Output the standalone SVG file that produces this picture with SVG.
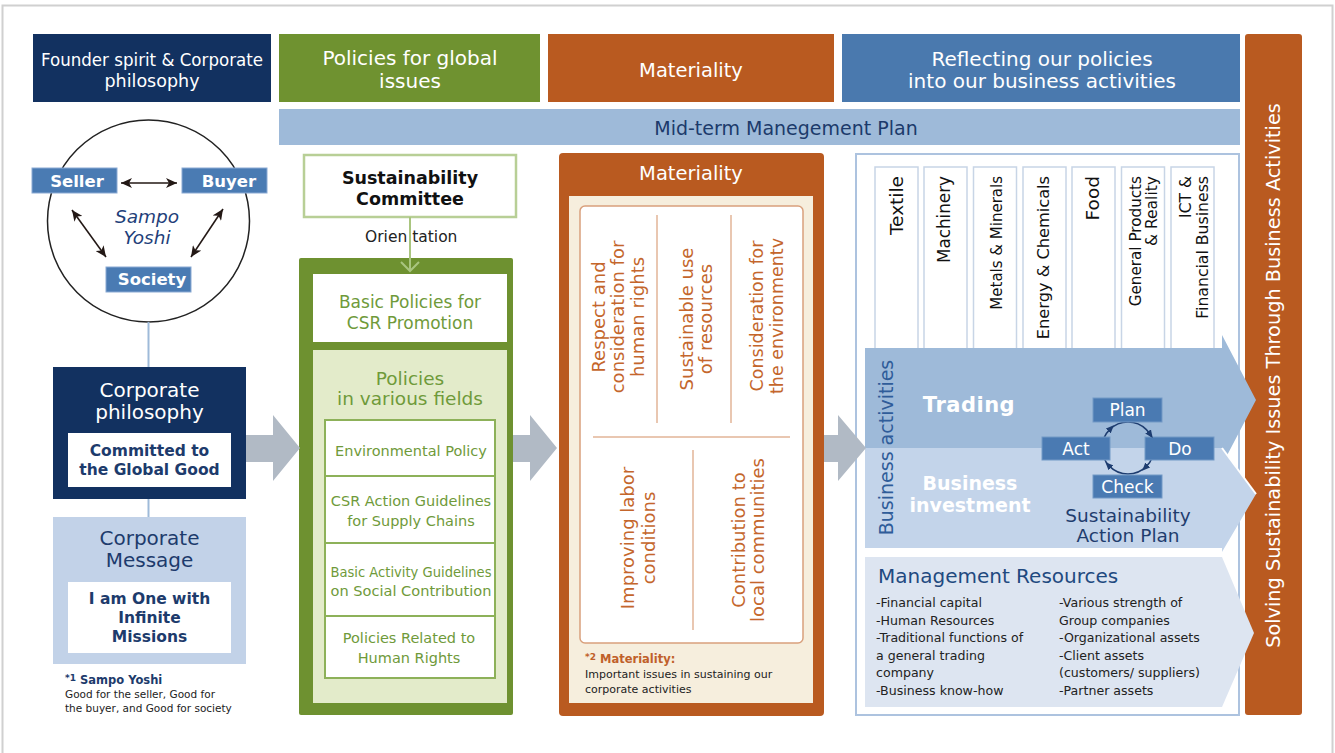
<svg xmlns="http://www.w3.org/2000/svg" width="1335" height="753" viewBox="0 0 1335 753">
<defs>
<style>
text{font-family:"DejaVu Sans",Verdana,sans-serif}
.c{text-anchor:middle}
.b{font-weight:bold}
.hdr{font-size:20px;fill:#fff;text-anchor:middle}
.navy{fill:#1d3b6c}
.grn{fill:#6f9a3a;font-size:14.5px;text-anchor:middle}
.org{fill:#c4662c;font-size:18px;text-anchor:middle}
.col{fill:#111;text-anchor:end}
.mr{font-size:12.6px;fill:#222}
.pd{font-size:17px;fill:#fff;text-anchor:middle}
.sbox{fill:#4a7bb3;stroke:#8aaad3;stroke-width:1}
.pbox{fill:#4a7ab2;stroke:#7399c6;stroke-width:1}
.divcol{fill:#fff;stroke:#c8d5e6;stroke-width:1.5}
.ga{fill:#b1bac5}
.sy{stroke:#231815;stroke-width:1.6;fill:none;marker-start:url(#ah);marker-end:url(#ah)}
.pa{stroke:none;fill:none;marker-end:url(#pm)}
</style>
<marker id="ah" viewBox="0 0 11 10" refX="11" refY="5" markerWidth="11" markerHeight="10" markerUnits="userSpaceOnUse" orient="auto-start-reverse"><path d="M0,0 L11,5 L0,10 L3,5 z" fill="#231815"/></marker>
<marker id="pm" viewBox="0 0 8 7" refX="4" refY="3.5" markerWidth="8" markerHeight="7" markerUnits="userSpaceOnUse" orient="auto"><path d="M0,0 L8,3.5 L0,7 z" fill="#1e3d70"/></marker>
</defs>

<rect x="0" y="0" width="1335" height="753" fill="#fff"/>
<rect id="frame" x="2.5" y="5.5" width="1330" height="800" fill="none" stroke="#d0d0d0" stroke-width="2"/>

<!-- Headers -->
<g id="hdr-founder">
<rect x="33" y="34" width="238" height="68" fill="#123160"/>
<text class="hdr" x="152" y="66" textLength="222" lengthAdjust="spacingAndGlyphs" style="font-size:17.5px">Founder spirit &amp; Corporate</text>
<text class="hdr" x="152" y="87" style="font-size:17.5px">philosophy</text>
</g>
<g id="hdr-policies">
<rect x="279" y="34" width="261" height="68" fill="#6f9230"/>
<text class="hdr" x="410" y="65">Policies for global</text>
<text class="hdr" x="410" y="88">issues</text>
</g>
<g id="hdr-materiality">
<rect x="548" y="34" width="286" height="68" fill="#b95a20"/>
<text class="hdr" x="691" y="77" style="font-size:19.5px">Materiality</text>
</g>
<g id="hdr-reflecting">
<rect x="842" y="34" width="398" height="68" fill="#4a79ae"/>
<text class="hdr" x="1042" y="66">Reflecting our policies</text>
<text class="hdr" x="1042" y="88">into our business activities</text>
</g>
<g id="midterm">
<rect x="279" y="109" width="961" height="36" fill="#9ebad9"/>
<text x="786" y="135" class="c" font-size="19" fill="#1c3a6b">Mid-term Manegement Plan</text>
</g>

<!-- Left column -->
<g id="sampo">
<circle cx="148.5" cy="221" r="101" fill="#fff" stroke="#222" stroke-width="1.5"/>
<text x="147" y="223" class="c" font-size="18.5" font-style="italic" fill="#1f3f7a">Sampo</text>
<text x="147" y="244" class="c" font-size="18.5" font-style="italic" fill="#1f3f7a">Yoshi</text>
</g>
<g id="seller">
<rect class="sbox" x="32" y="168" width="85" height="25"/>
<text x="77" y="187" class="c b" font-size="16.5" fill="#fff">Seller</text>
</g>
<g id="buyer">
<rect class="sbox" x="182" y="168" width="85" height="25"/>
<text x="229" y="187" class="c b" font-size="16.5" fill="#fff">Buyer</text>
</g>
<g id="society">
<rect class="sbox" x="106" y="267" width="85" height="25"/>
<text x="152" y="285" class="c b" font-size="16.5" fill="#fff">Society</text>
</g>
<g id="corp-philosophy">
<rect x="53" y="367" width="193" height="132" fill="#123160"/>
<text x="149.5" y="397" class="c" font-size="20" fill="#fff">Corporate</text>
<text x="149.5" y="419" class="c" font-size="20" fill="#fff">philosophy</text>
<rect x="68" y="433" width="163" height="54" fill="#fff"/>
<text x="149.5" y="456" class="c b" font-size="15.5" fill="#1d3b6c">Committed to</text>
<text x="149.5" y="475" class="c b" font-size="15.5" fill="#1d3b6c">the Global Good</text>
</g>
<g id="corp-message">
<rect x="53" y="517" width="193" height="147" fill="#c2d2e8"/>
<text x="149.5" y="545" class="c" font-size="20" fill="#1d3b6c">Corporate</text>
<text x="149.5" y="567" class="c" font-size="20" fill="#1d3b6c">Message</text>
<rect x="68" y="582" width="163" height="71" fill="#fff"/>
<text x="149.5" y="604" class="c b" font-size="15.5" fill="#1d3b6c">I am One with</text>
<text x="149.5" y="623" class="c b" font-size="15.5" fill="#1d3b6c">Infinite</text>
<text x="149.5" y="642" class="c b" font-size="15.5" fill="#1d3b6c">Missions</text>
</g>
<g id="note1">
<text x="65" y="684" class="b" font-size="11.5" fill="#1d3b6c"><tspan font-size="9" dy="-3">*1</tspan><tspan dy="3"> Sampo Yoshi</tspan></text>
<text x="65" y="698" font-size="10.5" fill="#222">Good for the seller, Good for</text>
<text x="65" y="712" font-size="10.5" fill="#222">the buyer, and Good for society</text>
</g>

<!-- Green column -->
<g id="sust-committee">
<rect x="304" y="155" width="212" height="62" fill="#fff" stroke="#b8cf96" stroke-width="2.5"/>
<text x="410" y="184" class="c b" font-size="17.5" fill="#111">Sustainability</text>
<text x="410" y="205" class="c b" font-size="17.5" fill="#111">Committee</text>
</g>
<g id="policies-box">
<rect x="299" y="258" width="214" height="457" fill="#6e9130" rx="2"/>
<rect x="313" y="274" width="194" height="68" fill="#fff"/>
<text x="410" y="308" class="c" font-size="17" fill="#6f9a3a">Basic Policies for</text>
<text x="410" y="329" class="c" font-size="17" fill="#6f9a3a">CSR Promotion</text>
<rect x="313" y="350" width="194" height="353" fill="#e3ebca"/>
<text x="410" y="385" class="c" font-size="18.5" fill="#6f9a3a">Policies</text>
<text x="410" y="405" class="c" font-size="18.5" fill="#6f9a3a">in various fields</text>
<rect x="325" y="420" width="170" height="258" fill="#fff" stroke="#8db159" stroke-width="2"/>
<line x1="325" y1="476" x2="495" y2="476" stroke="#8db159" stroke-width="2"/>
<line x1="325" y1="543" x2="495" y2="543" stroke="#8db159" stroke-width="2"/>
<line x1="325" y1="616" x2="495" y2="616" stroke="#8db159" stroke-width="2"/>
<text x="411" y="456" class="grn">Environmental Policy</text>
<text x="411" y="506" class="grn">CSR Action Guidelines</text>
<text x="411" y="526" class="grn">for Supply Chains</text>
<text x="411" y="577" class="grn" textLength="161" lengthAdjust="spacingAndGlyphs">Basic Activity Guidelines</text>
<text x="411" y="596" class="grn" textLength="161" lengthAdjust="spacingAndGlyphs">on Social Contribution</text>
<text x="409" y="643" class="grn">Policies Related to</text>
<text x="409" y="663" class="grn">Human Rights</text>
</g>

<!-- Materiality -->
<g id="materiality-box">
<rect x="559" y="153" width="265" height="563" rx="4" fill="#b95a20"/>
<text x="691" y="180" class="c" font-size="19.5" fill="#fff">Materiality</text>
<rect x="569" y="196" width="244" height="507" fill="#f6eedd"/>
<rect x="580" y="206" width="223" height="437" rx="5" fill="#fff" stroke="#d9a07c" stroke-width="1.5"/>
<line x1="657" y1="215" x2="657" y2="423" stroke="#e2b597" stroke-width="1.5"/>
<line x1="731" y1="215" x2="731" y2="423" stroke="#e2b597" stroke-width="1.5"/>
<line x1="593" y1="437" x2="790" y2="437" stroke="#e2b597" stroke-width="1.5"/>
<line x1="693" y1="450" x2="693" y2="630" stroke="#e2b597" stroke-width="1.5"/>
<g class="org">
<text transform="translate(604.5,317) rotate(-90)">Respect and</text>
<text transform="translate(624,317) rotate(-90)">consideration for</text>
<text transform="translate(643.5,317) rotate(-90)">human rights</text>
<text transform="translate(692.5,319) rotate(-90)">Sustainable use</text>
<text transform="translate(711.5,319) rotate(-90)">of resources</text>
<text transform="translate(763,316) rotate(-90)" style="font-size:17.5px">Consideration for</text>
<text transform="translate(782.5,316) rotate(-90)" style="font-size:17.5px">the environmentv</text>
<text transform="translate(634,538) rotate(-90)">Improving labor</text>
<text transform="translate(655,538) rotate(-90)">conditions</text>
<text transform="translate(745,540) rotate(-90)">Contribution to</text>
<text transform="translate(764,540) rotate(-90)">local communities</text>
</g>
<text x="585" y="663" class="b" font-size="11.5" fill="#c0602a"><tspan font-size="9" dy="-3">*2</tspan><tspan dy="3"> Materiality:</tspan></text>
<text x="585" y="678" font-size="11" fill="#222">Important issues in sustaining our</text>
<text x="585" y="693" font-size="11" fill="#222">corporate activities</text>
</g>

<!-- Right panel -->
<g id="business-panel">
<rect x="856" y="154" width="383" height="561" fill="#fff" stroke="#adc3df" stroke-width="2"/>
<rect class="divcol" x="875" y="167" width="43" height="190"/>
<rect class="divcol" x="924" y="167" width="43" height="190"/>
<rect class="divcol" x="973.5" y="167" width="43" height="190"/>
<rect class="divcol" x="1023" y="167" width="43" height="190"/>
<rect class="divcol" x="1072" y="167" width="43" height="190"/>
<rect class="divcol" x="1121.5" y="167" width="43" height="190"/>
<rect class="divcol" x="1171" y="167" width="43" height="190"/>
<text class="col" transform="translate(903,176) rotate(-90)" font-size="18.5">Textile</text>
<text class="col" transform="translate(950,176) rotate(-90)" font-size="16.8">Machinery</text>
<text class="col" transform="translate(1002,176) rotate(-90)" font-size="15">Metals &amp; Minerals</text>
<text class="col" transform="translate(1049,176) rotate(-90)" font-size="16.2">Energy &amp; Chemicals</text>
<text class="col" transform="translate(1099,176) rotate(-90)" font-size="18.5">Food</text>
<text class="col" transform="translate(1141,176) rotate(-90)" font-size="15.2">General Products</text>
<text class="col" transform="translate(1157,176) rotate(-90)" font-size="15.5">&amp; Reality</text>
<text class="col" transform="translate(1191,176) rotate(-90)" font-size="15.5">ICT &amp;</text>
<text class="col" transform="translate(1208,176) rotate(-90)" font-size="15.7">Financial Business</text>
</g>

<g id="solving">
<rect x="1245" y="34" width="57" height="681" rx="3" fill="#b95a20"/>
<text transform="translate(1280,375.5) rotate(-90)" class="c" font-size="19.3" fill="#fff">Solving Sustainability Issues Through Business Activities</text>
</g>

<g id="bands">
<polygon points="865,348 1222,348 1222,335 1256,400 1222,465 1222,448 865,448" fill="#9ebad9"/>
<polygon points="865,448 1222,448 1256,494 1222,552 1222,548 865,548" fill="#c3d4ea"/>
<polyline points="1222,448 1256,494" fill="none" stroke="#fff" stroke-width="2"/>
<polygon points="865,557 1222,557 1254,633 1222,707 865,707" fill="#dde5f1"/>
<text transform="translate(893,447.5) rotate(-90)" class="c" font-size="19" fill="#2f5c99">Business activities</text>
<text x="969" y="412" class="c b" font-size="21" fill="#fff" letter-spacing="0.5">Trading</text>
<text x="970" y="490" class="c b" font-size="19" fill="#fff">Business</text>
<text x="970" y="512" class="c b" font-size="19" fill="#fff">investment</text>
</g>

<g id="pdca">
<circle cx="1128" cy="448" r="26" fill="none" stroke="#1e3d70" stroke-width="1.5"/>
<rect class="pbox" x="1093" y="398" width="69" height="24"/>
<text x="1127.5" y="416" class="pd">Plan</text>
<rect class="pbox" x="1042" y="437" width="68" height="23"/>
<text x="1076" y="455" class="pd">Act</text>
<rect class="pbox" x="1145" y="437" width="69" height="23"/>
<text x="1180" y="455" class="pd">Do</text>
<rect class="pbox" x="1093" y="475" width="69" height="23"/>
<text x="1127.5" y="493" class="pd">Check</text>
<text x="1128" y="522" class="c" font-size="18.5" fill="#1f3d6e">Sustainability</text>
<text x="1128" y="542" class="c" font-size="18.5" fill="#1f3d6e">Action Plan</text>
</g>

<g id="mgmt-resources">
<text x="878" y="583" font-size="20" fill="#1f4a80">Management Resources</text>
<text class="mr" x="876" y="607">-Financial capital</text>
<text class="mr" x="876" y="625">-Human Resources</text>
<text class="mr" x="876" y="642">-Traditional functions of</text>
<text class="mr" x="876" y="660">a general trading</text>
<text class="mr" x="876" y="677">company</text>
<text class="mr" x="876" y="695">-Business know-how</text>
<text class="mr" x="1059" y="607">-Various strength of</text>
<text class="mr" x="1059" y="625">Group companies</text>
<text class="mr" x="1059" y="642">-Organizational assets</text>
<text class="mr" x="1059" y="660">-Client assets</text>
<text class="mr" x="1059" y="677">(customers/ suppliers)</text>
<text class="mr" x="1059" y="695">-Partner assets</text>
</g>

<!-- Connectors -->
<g id="connectors">
<line x1="148.5" y1="322" x2="148.5" y2="367" stroke="#9ebad9" stroke-width="2"/>
<line x1="148.5" y1="499" x2="148.5" y2="517" stroke="#9ebad9" stroke-width="2"/>
<line class="sy" x1="121" y1="183" x2="177" y2="183"/>
<line class="sy" x1="72" y1="210" x2="106" y2="257"/>
<line class="sy" x1="223" y1="209" x2="191" y2="257"/>
<line x1="410" y1="217" x2="410" y2="271" stroke="#a9c57f" stroke-width="2"/>
<polyline points="401,262 410,271 419,262" fill="none" stroke="#a9c57f" stroke-width="2"/>
<text x="365" y="242" font-size="15.5" fill="#222">Orien tation</text>
<polygon class="ga" points="246,435 273,435 273,415 300,448 273,481 273,462 246,462"/>
<polygon class="ga" points="513,435 530,435 530,415 557,448 530,481 530,462 513,462"/>
<polygon class="ga" points="824,435 838,435 838,415 866,448 838,481 838,462 824,462"/>
<path class="pa" d="M1108.2,431 L1111,428.2"/>
<path class="pa" d="M1148.1,431.5 L1150.4,434.7"/>
<path class="pa" d="M1147.8,465 L1145,467.8"/>
<path class="pa" d="M1111,467.8 L1108.2,465"/>
</g>
</svg>
